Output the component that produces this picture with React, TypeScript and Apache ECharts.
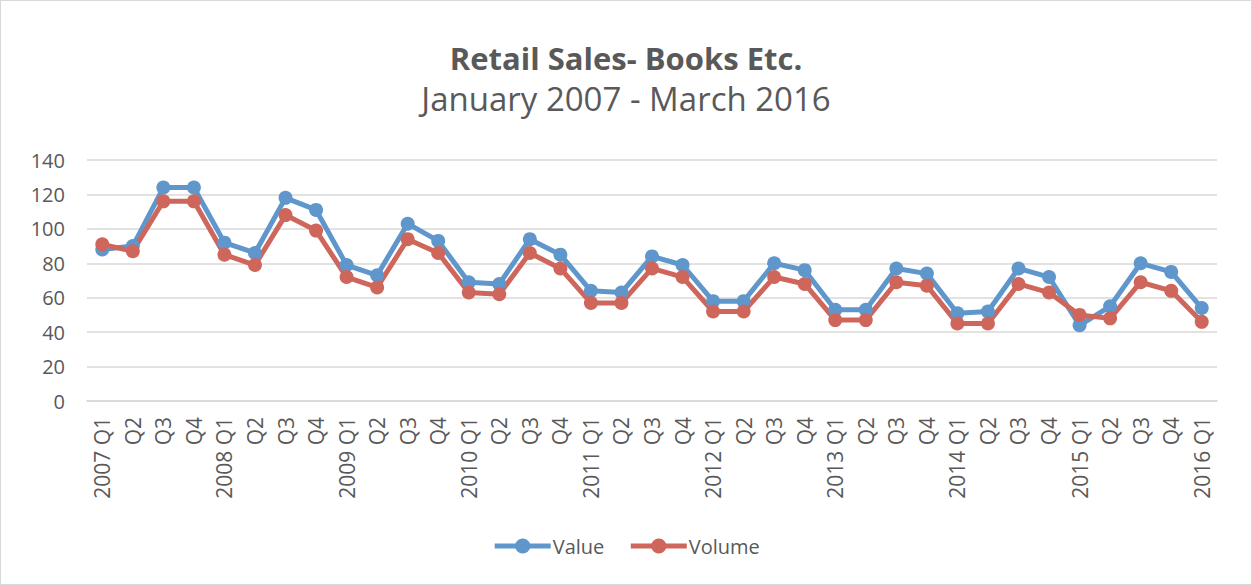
import React, { useEffect, useRef } from "react";
import * as echarts from "echarts";

const categories = [
  "2007 Q1", "Q2", "Q3", "Q4",
  "2008 Q1", "Q2", "Q3", "Q4",
  "2009 Q1", "Q2", "Q3", "Q4",
  "2010 Q1", "Q2", "Q3", "Q4",
  "2011 Q1", "Q2", "Q3", "Q4",
  "2012 Q1", "Q2", "Q3", "Q4",
  "2013 Q1", "Q2", "Q3", "Q4",
  "2014 Q1", "Q2", "Q3", "Q4",
  "2015 Q1", "Q2", "Q3", "Q4",
  "2016 Q1",
];

const valueSeries = [
  88, 90, 124, 124,
  92, 86, 118, 111,
  79, 73, 103, 93,
  69, 68, 94, 85,
  64, 63, 84, 79,
  58, 58, 80, 76,
  53, 53, 77, 74,
  51, 52, 77, 72,
  44, 55, 80, 75,
  54,
];

const volumeSeries = [
  91, 87, 116, 116,
  85, 79, 108, 99,
  72, 66, 94, 86,
  63, 62, 86, 77,
  57, 57, 77, 72,
  52, 52, 72, 68,
  47, 47, 69, 67,
  45, 45, 68, 63,
  50, 48, 69, 64,
  46,
];

const BLUE = "#5F96CB";
const RED = "#CF665C";
const TEXT = "#595959";
const FONT = "'Open Sans', sans-serif";

export default function App() {
  const ref = useRef<HTMLDivElement>(null);
  useEffect(() => {
    if (!ref.current) return;
    const chart = echarts.init(ref.current, null, { renderer: "svg" });
    chart.setOption({
      animation: false,
      backgroundColor: "#ffffff",
      textStyle: { fontFamily: FONT, color: TEXT },
      title: [
        {
          text: "Retail Sales- Books Etc.",
          left: "center",
          top: 36,
          textStyle: { fontFamily: FONT, fontSize: 31, fontWeight: "bold", color: TEXT },
        },
        {
          text: "January 2007 - March 2016",
          left: "center",
          top: 76,
          textStyle: { fontFamily: FONT, fontSize: 33, fontWeight: "normal", color: TEXT },
        },
      ],
      legend: {
        bottom: 23,
        left: "center",
        itemWidth: 56,
        itemHeight: 19,
        itemGap: 24,
        lineStyle: { width: 5 },
        textStyle: { fontFamily: FONT, fontSize: 20, color: TEXT, padding: [0, 0, 0, -3] },
        data: ["Value", "Volume"],
      },
      grid: { left: 86, right: 34, top: 159, bottom: 183, containLabel: false },
      xAxis: {
        type: "category",
        data: categories,
        boundaryGap: true,
        axisLine: { show: true, lineStyle: { color: "#d9d9d9", width: 1.5 } },
        axisTick: { show: false },
        axisLabel: {
          rotate: 90,
          interval: 0,
          margin: 16,
          fontFamily: FONT,
          fontSize: 21,
          color: TEXT,
        },
      },
      yAxis: {
        type: "value",
        min: 0,
        max: 140,
        interval: 20,
        axisLine: { show: false },
        axisTick: { show: false },
        axisLabel: { margin: 22, fontFamily: FONT, fontSize: 20, color: TEXT },
        splitLine: { lineStyle: { color: "#d9d9d9", width: 1.5 } },
      },
      series: [
        {
          name: "Value",
          type: "line",
          data: valueSeries,
          symbol: "circle",
          symbolSize: 14,
          lineStyle: { color: BLUE, width: 5 },
          itemStyle: { color: BLUE },
        },
        {
          name: "Volume",
          type: "line",
          data: volumeSeries,
          symbol: "circle",
          symbolSize: 14,
          lineStyle: { color: RED, width: 5 },
          itemStyle: { color: RED },
        },
      ],
    });
    return () => chart.dispose();
  }, []);
  return (
    <div
      style={{
        position: "absolute",
        left: 0,
        top: 0,
        width: 1252,
        height: 585,
        boxSizing: "border-box",
        border: "1px solid #d9d9d9",
        background: "#fff",
      }}
    >
      <div ref={ref} style={{ width: 1250, height: 583 }} />
    </div>
  );
}
